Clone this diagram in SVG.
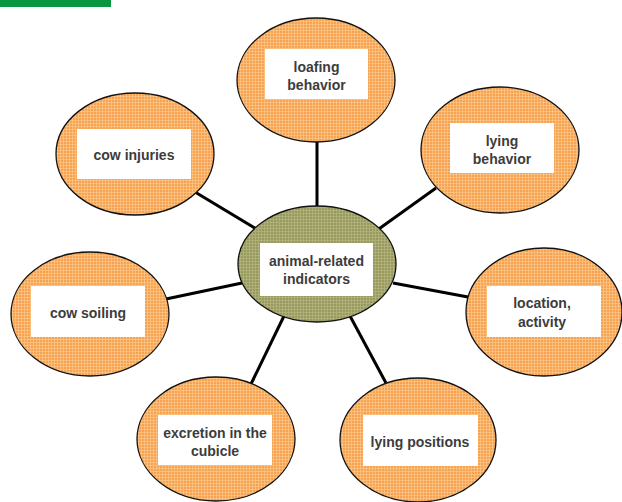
<svg xmlns="http://www.w3.org/2000/svg" width="622" height="502" viewBox="0 0 622 502">
  <defs>
    <pattern id="orangeGrid" width="3" height="3" patternUnits="userSpaceOnUse">
      <rect width="3" height="3" fill="#f6a24e"/>
      <path d="M0 0.5H3M0.5 0V3" stroke="#fbc487" stroke-width="0.8"/>
    </pattern>
    <pattern id="oliveGrid" width="3" height="3" patternUnits="userSpaceOnUse">
      <rect width="3" height="3" fill="#979a5c"/>
      <path d="M0 0.5H3M0.5 0V3" stroke="#b3b47e" stroke-width="0.8"/>
    </pattern>
  </defs>
  <style>
    .leaf { fill: url(#orangeGrid); stroke: #111; stroke-width: 1.3; }
    .hub { fill: url(#oliveGrid); stroke: #111; stroke-width: 1.3; }
    .box { fill: #fff; }
    .label { font-family: "Liberation Sans", Arial, sans-serif; font-size: 14px; font-weight: bold; fill: #3c3c3c; text-anchor: middle; }
    .link { stroke: #000; stroke-width: 3; fill: none; }
  </style>

  <rect x="0" y="0" width="111" height="7" fill="#0a9641"/>

  <g id="connectors">
    <line class="link" x1="317" y1="140" x2="317" y2="209"/>
    <line class="link" x1="195" y1="192" x2="258" y2="230"/>
    <line class="link" x1="436" y1="188" x2="376" y2="231"/>
    <line class="link" x1="166" y1="299" x2="242" y2="283"/>
    <line class="link" x1="393" y1="283" x2="468" y2="297"/>
    <line class="link" x1="284" y1="316" x2="251" y2="384"/>
    <line class="link" x1="350" y1="316" x2="386" y2="383"/>
  </g>

  <g id="loafing-behavior">
    <ellipse class="leaf" cx="316" cy="80" rx="79" ry="62"/>
    <rect class="box" x="265" y="49" width="103" height="50"/>
    <text class="label" x="316.500" y="72">loafing</text>
    <text class="label" x="316.500" y="90">behavior</text>
  </g>

  <g id="cow-injuries">
    <ellipse class="leaf" cx="135" cy="154" rx="79" ry="61"/>
    <rect class="box" x="77" y="129" width="114" height="50"/>
    <text class="label" x="134" y="160">cow injuries</text>
  </g>

  <g id="lying-behavior">
    <ellipse class="leaf" cx="500" cy="150" rx="79" ry="63"/>
    <rect class="box" x="450" y="123" width="104" height="50"/>
    <text class="label" x="502" y="146">lying</text>
    <text class="label" x="502" y="164">behavior</text>
  </g>

  <g id="animal-related-indicators">
    <ellipse class="hub" cx="317" cy="264" rx="79" ry="58"/>
    <rect class="box" x="260" y="243" width="113" height="53"/>
    <text class="label" x="316.500" y="266">animal-related</text>
    <text class="label" x="316.500" y="284">indicators</text>
  </g>

  <g id="cow-soiling">
    <ellipse class="leaf" cx="90" cy="314" rx="79" ry="62"/>
    <rect class="box" x="31" y="286" width="114" height="51"/>
    <text class="label" x="88" y="318">cow soiling</text>
  </g>

  <g id="location-activity">
    <ellipse class="leaf" cx="544" cy="312" rx="78" ry="64"/>
    <rect class="box" x="487" y="286" width="114" height="51"/>
    <text class="label" x="542" y="308">location,</text>
    <text class="label" x="542" y="327">activity</text>
  </g>

  <g id="excretion-in-the-cubicle">
    <ellipse class="leaf" cx="216" cy="439" rx="79" ry="62"/>
    <rect class="box" x="158" y="415" width="114" height="50"/>
    <text class="label" x="215" y="438">excretion in the</text>
    <text class="label" x="215" y="456">cubicle</text>
  </g>

  <g id="lying-positions">
    <ellipse class="leaf" cx="418" cy="440" rx="78" ry="62"/>
    <rect class="box" x="363" y="415" width="115" height="51"/>
    <text class="label" x="420" y="447">lying positions</text>
  </g>
</svg>
